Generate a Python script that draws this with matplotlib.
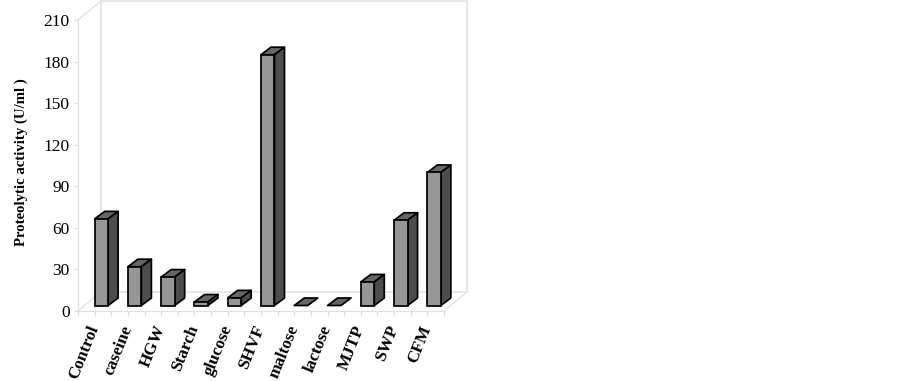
import matplotlib
matplotlib.use("Agg")
import matplotlib.pyplot as plt
from matplotlib.patches import Polygon
from matplotlib.transforms import ScaledTranslation

plt.rcParams["font.family"] = ["Liberation Serif", "DejaVu Serif"]

categories = ["Control", "caseine", "HGW", "Starch", "glucose", "SHVF",
              "maltose", "lactose", "MJTP", "SWP", "CFM"]
activity = [62.5, 28, 20.5, 2.5, 5.5, 181, 0, 0, 17, 61.5, 96]
y_ticks = [0, 30, 60, 90, 120, 150, 180, 210]

W, H, DPI = 902, 381, 100
WALL = "#e0e0e0"
FRONT, SIDE, TOP = "#969696", "#4d4d4d", "#666666"

fig = plt.figure(figsize=(W / DPI, H / DPI), dpi=DPI)
# plot box in pixels: x 78-444, y 20-311
ax = fig.add_axes([78 / W, 1 - 311 / H, 366 / W, 291 / H])
ax.set_xlim(0, len(categories))
ax.set_ylim(0, 210)
ax.patch.set_visible(False)

# px -> data units
ux = len(categories) / 366
uy = 210 / 291

# 3d box walls
wall_dx, wall_dy = 23 * ux, 19 * uy
n = len(categories)
ax.add_patch(Polygon([(wall_dx, wall_dy), (wall_dx, 210 + wall_dy), (n + wall_dx, 210 + wall_dy),
                      (n + wall_dx, wall_dy)], closed=True, fill=False, ec=WALL, lw=1.1,
                     clip_on=False, zorder=1))
ax.plot([0, wall_dx], [210, 210 + wall_dy], color=WALL, lw=0.9, clip_on=False, zorder=1)
ax.plot([0, wall_dx], [0, wall_dy], color=WALL, lw=0.9, clip_on=False, zorder=1)
ax.plot([n, n + wall_dx], [0, wall_dy], color=WALL, lw=0.9, clip_on=False, zorder=1)

for s in ("top", "right"):
    ax.spines[s].set_visible(False)
for s in ("left", "bottom"):
    ax.spines[s].set_color(WALL)
    ax.spines[s].set_linewidth(0.9)

# bars
bar_w = 0.405
off_y = 5.5 * uy
depth_x, depth_y = 10 * ux, 7.5 * uy
LW = 1.25
for i, v in enumerate(activity):
    x0 = i + 0.5
    x1 = x0 + bar_w
    y0 = off_y
    y1 = off_y + v
    style = dict(closed=True, ec="black", lw=LW, joinstyle="round", clip_on=False, zorder=3)
    ax.add_patch(Polygon([(x0, y1), (x1, y1), (x1 + depth_x, y1 + depth_y), (x0 + depth_x, y1 + depth_y)],
                         fc=TOP, **style))
    if v > 0:
        ax.add_patch(Polygon([(x1, y0), (x1 + depth_x, y0 + depth_y), (x1 + depth_x, y1 + depth_y), (x1, y1)],
                             fc=SIDE, **style))
        ax.bar(x0, v, width=bar_w, bottom=y0, align="edge", color=FRONT, edgecolor="black",
               linewidth=LW, clip_on=False, zorder=4)

# ticks
ax.set_yticks(y_ticks)
ax.tick_params(axis="y", length=3, width=0.9, color=WALL, labelsize=12.5, pad=3)
ax.set_xticks([k / 2 for k in range(2 * n + 1)])
ax.set_xticklabels([])
ax.tick_params(axis="x", length=3.5, width=0.9, color=WALL)

lab_off = ScaledTranslation(0 / DPI, -15 / DPI, fig.dpi_scale_trans)
for i, name in enumerate(categories):
    ax.text(i + 0.5, 0, name, rotation=68, rotation_mode="anchor", ha="right", va="center",
            fontsize=12.3, fontweight="bold", transform=ax.transData + lab_off, clip_on=False)

fig.text(21.5 / W, 1 - 162 / H, "Proteolytic activity (U/ml )", rotation=90, ha="center", va="center",
         fontsize=10.6, fontweight="bold")

fig.savefig("out.png", dpi=DPI)
